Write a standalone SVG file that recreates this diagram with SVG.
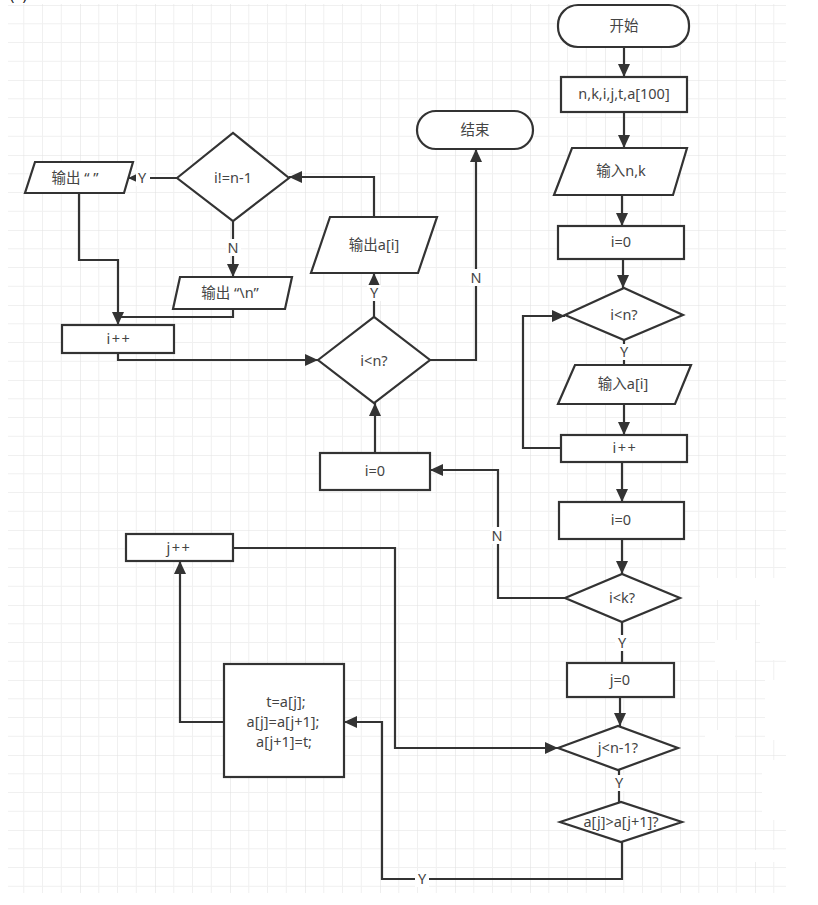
<svg xmlns="http://www.w3.org/2000/svg" width="818" height="905" viewBox="0 0 818 905">
<defs>
<pattern id="grid" x="5" y="5" width="75" height="75" patternUnits="userSpaceOnUse">
<path d="M18.75,0V75M37.5,0V75M56.25,0V75M0,18.75H75M0,37.5H75M0,56.25H75" stroke="#f0f0f0" stroke-width="1" fill="none"/>
<path d="M0,0V75M0,0H75" stroke="#e2e2e2" stroke-width="1.2" fill="none"/>
</pattern>
<marker id="arr" markerWidth="13" markerHeight="12" refX="13" refY="6" orient="auto" markerUnits="userSpaceOnUse">
<path d="M0,0L13,6L0,12z" fill="#333"/>
</marker>
<style>
.n{fill:#fff;stroke:#333;stroke-width:2.2}
.t{font-family:"Noto Sans","Noto Sans CJK SC",sans-serif;font-size:14.5px;fill:#444;text-anchor:middle}
.sp{letter-spacing:1.5px}
.c{fill:none;stroke:#333;stroke-width:2.2}
.a{marker-end:url(#arr)}
.lb{fill:#fff}
</style>
</defs>
<rect width="818" height="905" fill="#fff"/>
<rect x="8" y="4" width="778" height="889" fill="url(#grid)"/>
<g fill="#fff">
<rect x="700" y="578" width="86" height="22"/>
<rect x="760" y="600" width="26" height="60"/>
<rect x="715" y="640" width="40" height="30"/>
<rect x="765" y="680" width="21" height="60"/>
<rect x="705" y="730" width="30" height="25"/>
<rect x="762" y="760" width="24" height="60"/>
<rect x="745" y="850" width="41" height="12"/>
</g>
<text x="10" y="0" class="t" style="text-anchor:start;fill:#222">(a)</text>

<g id="connectors">
<path class="c a" d="M624,47V77"/>
<path class="c a" d="M624,112V148"/>
<path class="c a" d="M622,195V226"/>
<path class="c a" d="M623,259V288"/>
<path class="c" d="M624,340V365"/>
<path class="c a" d="M624,404V435"/>
<path class="c a" d="M561,448H523V316H565"/>
<path class="c a" d="M622,462V502"/>
<path class="c a" d="M622,539V574"/>
<path class="c a" d="M565,598H498V470H430"/>
<path class="c" d="M622,622V663"/>
<path class="c a" d="M620,697V726"/>
<path class="c" d="M619,770V802"/>
<path class="c a" d="M622,842V879H382V722H344"/>
<path class="c a" d="M224,722H180V561"/>
<path class="c a" d="M233,548H395V748H558"/>
<path class="c a" d="M375,453V403"/>
<path class="c a" d="M430,360H476V149"/>
<path class="c a" d="M374,317V273"/>
<path class="c a" d="M374,217V177H289"/>
<path class="c a" d="M177,178H128"/>
<path class="c a" d="M233,221V277"/>
<path class="c a" d="M79,193V260H118V325"/>
<path class="c" d="M233,309V317H118"/>
<path class="c a" d="M118,353V360H318"/>
<g>
<rect class="lb" x="617" y="344" width="14" height="16"/><text class="t" x="624" y="357">Y</text>
<rect class="lb" x="490" y="527" width="15" height="17"/><text class="t" x="497" y="541">N</text>
<rect class="lb" x="615" y="635" width="14" height="16"/><text class="t" x="622" y="648">Y</text>
<rect class="lb" x="612" y="775" width="14" height="16"/><text class="t" x="619" y="788">Y</text>
<rect class="lb" x="415" y="871" width="14" height="16"/><text class="t" x="422" y="884">Y</text>
<rect class="lb" x="469" y="269" width="15" height="17"/><text class="t" x="476" y="283">N</text>
<rect class="lb" x="367" y="285" width="14" height="16"/><text class="t" x="374" y="298">Y</text>
<rect class="lb" x="136" y="170" width="14" height="16"/><text class="t" x="142" y="183">Y</text>
<rect class="lb" x="226" y="239" width="15" height="17"/><text class="t" x="233" y="253">N</text>
</g>
</g>

<g id="start"><rect class="n" x="558" y="5" width="131" height="42" rx="20"/><text class="t" x="624" y="31">开始</text></g>
<g id="decl"><rect class="n" x="561" y="77" width="126" height="35"/><text class="t" x="624" y="99">n,k,i,j,t,a[100]</text></g>
<g id="input_nk"><polygon class="n" points="572,148 687,148 673,195 554,195"/><text class="t" x="621" y="176">输入n,k</text></g>
<g id="init_i1"><rect class="n" x="558" y="226" width="126" height="33"/><text class="t" x="621" y="247">i=0</text></g>
<g id="cond_read"><polygon class="n" points="565,315 624,288 683,315 624,340"/><text class="t" x="624" y="320">i&lt;n?</text></g>
<g id="input_ai"><polygon class="n" points="575,365 691,365 675,404 558,404"/><text class="t" x="623" y="389">输入a[i]</text></g>
<g id="inc_i1"><rect class="n" x="561" y="435" width="126" height="27"/><text class="t sp" x="625" y="453">i++</text></g>
<g id="init_i2"><rect class="n" x="559" y="502" width="125" height="37"/><text class="t" x="621" y="525">i=0</text></g>
<g id="cond_k"><polygon class="n" points="565,598 622,574 680,598 622,622"/><text class="t" x="622" y="603">i&lt;k?</text></g>
<g id="init_j"><rect class="n" x="567" y="663" width="107" height="34"/><text class="t" x="620" y="685">j=0</text></g>
<g id="cond_j"><polygon class="n" points="558,748 618,726 678,748 618,770"/><text class="t" x="618" y="753">j&lt;n-1?</text></g>
<g id="cond_swap"><polygon class="n" points="560,822 621,802 682,822 621,842"/><text class="t" x="621" y="827">a[j]&gt;a[j+1]?</text></g>
<g id="swap"><rect class="n" x="224" y="664" width="120" height="113"/>
<text class="t" x="286" y="707">t=a[j];</text><text class="t" x="283" y="727">a[j]=a[j+1];</text><text class="t" x="284" y="747">a[j+1]=t;</text></g>
<g id="inc_j"><rect class="n" x="126" y="534" width="107" height="27"/><text class="t sp" x="179" y="553">j++</text></g>
<g id="init_i3"><rect class="n" x="320" y="453" width="110" height="37"/><text class="t" x="375" y="476">i=0</text></g>
<g id="cond_print"><polygon class="n" points="318,360 374,317 430,360 374,403"/><text class="t" x="374" y="366">i&lt;n?</text></g>
<g id="output_ai"><polygon class="n" points="330,217 437,217 418,273 311,273"/><text class="t" x="374" y="250">输出a[i]</text></g>
<g id="end"><rect class="n" x="417" y="111" width="116" height="38" rx="19"/><text class="t" x="475" y="135">结束</text></g>
<g id="cond_last"><polygon class="n" points="177,178 233,133 289,178 233,221"/><text class="t" x="233" y="183">i!=n-1</text></g>
<g id="output_space"><polygon class="n" points="35,162 133,162 124,193 25,193"/><text class="t" x="75" y="183">输出 “ ”</text></g>
<g id="output_nl"><polygon class="n" points="180,277 292,277 285,309 173,309"/><text class="t" x="230" y="298">输出 “\n”</text></g>
<g id="inc_i2"><rect class="n" x="62" y="325" width="112" height="28"/><text class="t sp" x="119" y="344">i++</text></g>
</svg>
